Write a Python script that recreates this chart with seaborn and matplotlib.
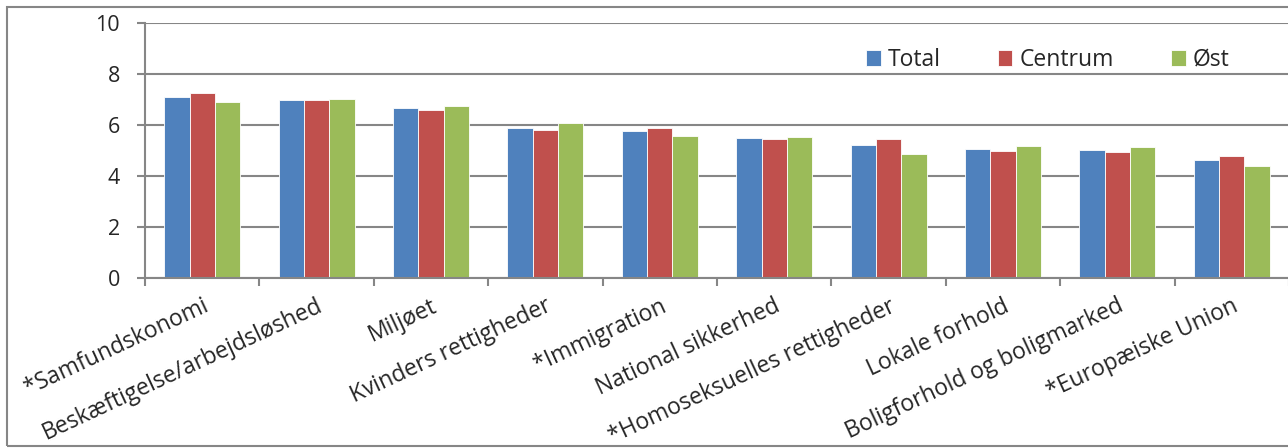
import pandas as pd
import numpy as np
import matplotlib.pyplot as plt
import seaborn as sns

# data
categories = ['*Samfundskonomi', 'Beskæftigelse/arbejdsløshed', 'Miljøet',
              'Kvinders rettigheder', '*Immigration', 'National sikkerhed',
              '*Homoseksuelles rettigheder', 'Lokale forhold',
              'Boligforhold og boligmarked', '*Europæiske Union']
total = [7.11, 6.99, 6.65, 5.89, 5.75, 5.47, 5.19, 5.04, 5.00, 4.61]
centrum = [7.24, 6.96, 6.60, 5.78, 5.88, 5.44, 5.44, 4.96, 4.93, 4.76]
ost = [6.91, 7.03, 6.74, 6.06, 5.56, 5.51, 4.85, 5.16, 5.11, 4.40]
series = ['Total', 'Centrum', 'Øst']
colors = ['#4F81BD', '#C0504D', '#9BBB59']
yticks = [0, 2, 4, 6, 8, 10]

df = pd.DataFrame({'Kategori': categories, 'Total': total,
                   'Centrum': centrum, 'Øst': ost})
long_df = df.melt(id_vars='Kategori', var_name='Serie', value_name='Værdi')

sns.set_style('white')
plt.rcParams['font.family'] = ['Open Sans', 'DejaVu Sans']
fs_y = 15.5
fs_x = 16.5
fs_leg = 16.5
grid_col = '#868686'

fig = plt.figure(figsize=(12.88, 4.48), dpi=100)
W, H = 1288, 448
ax = fig.add_axes([145 / W, 1 - 277.6 / H, 1144 / W, (277.6 - 23) / H])

sns.barplot(data=long_df, x='Kategori', y='Værdi', hue='Serie',
            hue_order=series, palette=colors, order=categories,
            width=0.665, edgecolor='white', linewidth=0.6,
            saturation=1, ax=ax)

ax.set_xlim(-0.5, len(categories) - 0.5)
ax.set_ylim(0, 10)
ax.set_yticks(yticks)
ax.set_yticklabels([str(v) for v in yticks], fontsize=fs_y)
ax.yaxis.grid(True, color=grid_col, linewidth=1.5)
ax.set_axisbelow(True)
ax.set_xlabel('')
ax.set_ylabel('')

# x ticks sit between the groups, labels at group centres
ax.set_xticks(np.arange(len(categories) + 1) - 0.5)
ax.set_xticklabels([])
ax.set_xticks(np.arange(len(categories)), minor=True)
ax.set_xticklabels(categories, minor=True, rotation=25, ha='right',
                   rotation_mode='anchor', fontsize=fs_x)
ax.tick_params(axis='x', which='minor', length=0, pad=12)
ax.tick_params(axis='x', which='major', length=6, width=1.5, color=grid_col,
               direction='out', bottom=True)
ax.tick_params(axis='y', length=6, width=1.5, color=grid_col,
               direction='out', left=True, pad=12)

for side in ['top', 'right']:
    ax.spines[side].set_visible(False)
for side in ['left', 'bottom']:
    ax.spines[side].set_color(grid_col)
    ax.spines[side].set_linewidth(1.5)

handles, labels = ax.get_legend_handles_labels()
ax.legend(handles, labels, ncol=3, frameon=False, fontsize=fs_leg,
          loc='center left', bbox_to_anchor=(866 / W, 1 - 60 / H),
          bbox_transform=fig.transFigure, borderpad=0, borderaxespad=0,
          handlelength=0.64, handleheight=0.64, handletextpad=0.3,
          columnspacing=2.5)

# chart area border
fig.patches.append(plt.Rectangle((7 / W, 1 - 446 / H), 1.1, (446 - 7) / H,
                                 transform=fig.transFigure, fill=False,
                                 edgecolor=grid_col, linewidth=1.5))

fig.savefig('out.png', dpi=100)
